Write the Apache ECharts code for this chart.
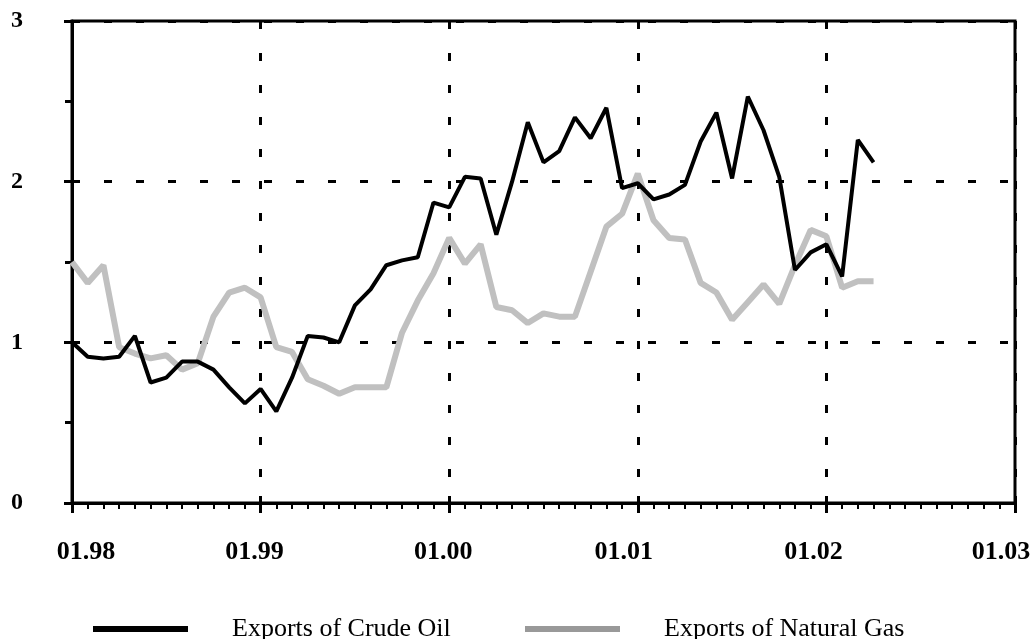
<!DOCTYPE html>
<html>
<head>
<meta charset="utf-8">
<script src="https://cdn.jsdelivr.net/npm/echarts@6/dist/echarts.min.js"></script>
<style>html,body{margin:0;padding:0;background:#fff;overflow:hidden;width:1032px;height:639px}#c{width:1032px;height:639px;display:block}</style>
</head>
<body>
<div id="c"></div>
<script>
// Monthly data, Jan 1998 .. Apr 2002
const yearTickLabels = ['01.98', '01.99', '01.00', '01.01', '01.02', '01.03'];
const seriesNames = ['Exports of Crude Oil', 'Exports of Natural Gas'];
const crudeOil = [
  1.00, 0.91, 0.90, 0.91, 1.04, 0.75, 0.78, 0.88, 0.88, 0.83, 0.72, 0.62,
  0.71, 0.57, 0.78, 1.04, 1.03, 1.00, 1.23, 1.33, 1.48, 1.51, 1.53, 1.87,
  1.84, 2.03, 2.02, 1.67, 2.00, 2.37, 2.12, 2.19, 2.40, 2.27, 2.46, 1.96,
  1.99, 1.89, 1.92, 1.98, 2.25, 2.43, 2.02, 2.53, 2.32, 2.03, 1.45, 1.56,
  1.61, 1.41, 2.26, 2.12
];
const naturalGas = [
  1.50, 1.37, 1.48, 0.97, 0.93, 0.90, 0.92, 0.83, 0.87, 1.16, 1.31, 1.34,
  1.28, 0.97, 0.94, 0.77, 0.73, 0.68, 0.72, 0.72, 0.72, 1.06, 1.26, 1.43,
  1.65, 1.49, 1.61, 1.22, 1.20, 1.12, 1.18, 1.16, 1.16, 1.44, 1.72, 1.80,
  2.05, 1.76, 1.65, 1.64, 1.37, 1.31, 1.14, 1.25, 1.36, 1.24, 1.48, 1.70,
  1.66, 1.34, 1.38, 1.38
];

const toPairs = arr => arr.map((v, i) => [i, v]);
const font = 'Liberation Serif';
const labelFont = {fontFamily: font, fontWeight: 'bold', fontSize: 26, color: '#000'};
// small per-label horizontal nudges as in the original layout
const labelPads = [[0, 0, 0, 28], [0, 12, 0, 0], [0, 12, 0, 0], [0, 28, 0, 0], [0, 26, 0, 0], [0, 28, 0, 0]];
const rich = {};
labelPads.forEach((p, i) => { rich['s' + i] = Object.assign({padding: p}, labelFont); });

const chart = echarts.init(document.getElementById('c'), null, {renderer: 'canvas', width: 1032, height: 639});
chart.setOption({
  animation: false,
  backgroundColor: '#fff',
  grid: {left: 72, right: 17, top: 21, bottom: 136, outerBoundsMode: 'none', containLabel: false,
         show: true, borderColor: '#000', borderWidth: 3, backgroundColor: 'transparent'},
  xAxis: [{
    type: 'value', min: 0, max: 60, interval: 12,
    axisLine: {lineStyle: {color: '#000', width: 3}},
    axisTick: {show: true, length: 10, lineStyle: {color: '#000', width: 3}},
    minorTick: {show: true, splitNumber: 12, length: 6, lineStyle: {color: '#000', width: 2}},
    axisLabel: Object.assign({
      margin: 36, rich: rich,
      formatter: v => { const i = Math.round(v / 12); return '{s' + i + '|' + yearTickLabels[i] + '}'; }
    }, labelFont),
    splitLine: {show: true, lineStyle: {color: '#000', width: 3, type: [8, 24]}},
    minorSplitLine: {show: false}
  }, {
    type: 'value', min: 0, max: 60, interval: 12, position: 'bottom',
    axisLine: {show: false},
    axisTick: {show: true, inside: true, length: 7, lineStyle: {color: '#000', width: 3}},
    axisLabel: {show: false},
    splitLine: {show: false}
  }],
  yAxis: {
    type: 'value', min: 0, max: 3, interval: 1,
    axisLine: {show: true, lineStyle: {color: '#000', width: 3}},
    axisTick: {show: true, length: 8, lineStyle: {color: '#000', width: 3}},
    minorTick: {show: true, splitNumber: 2, length: 7, lineStyle: {color: '#000', width: 3}},
    axisLabel: {margin: 49, color: '#000', fontFamily: font, fontWeight: 'bold', fontSize: 24, padding: [14, 0, 0, 0]},
    splitLine: {show: true, lineStyle: {color: '#000', width: 3, type: [8, 24]}}
  },
  legend: [{
    left: 88, top: 611, icon: 'rect', itemWidth: 95, itemHeight: 6, selectedMode: false,
    textStyle: {fontFamily: font, fontSize: 26, color: '#000', padding: [0, 0, 0, 39]},
    data: [{name: seriesNames[0], itemStyle: {color: '#000'}}]
  }, {
    left: 520, top: 611, icon: 'rect', itemWidth: 95, itemHeight: 6, selectedMode: false,
    textStyle: {fontFamily: font, fontSize: 26, color: '#000', padding: [0, 0, 0, 39]},
    data: [{name: seriesNames[1], itemStyle: {color: '#999999'}}]
  }],
  series: [{
    name: seriesNames[1], type: 'line', data: toPairs(naturalGas), showSymbol: false, z: 2,
    lineStyle: {color: '#c0c0c0', width: 6}, itemStyle: {color: '#c0c0c0'}
  }, {
    name: seriesNames[0], type: 'line', data: toPairs(crudeOil), showSymbol: false, z: 3,
    lineStyle: {color: '#000', width: 4}, itemStyle: {color: '#000'}
  }]
});
</script>
</body>
</html>
